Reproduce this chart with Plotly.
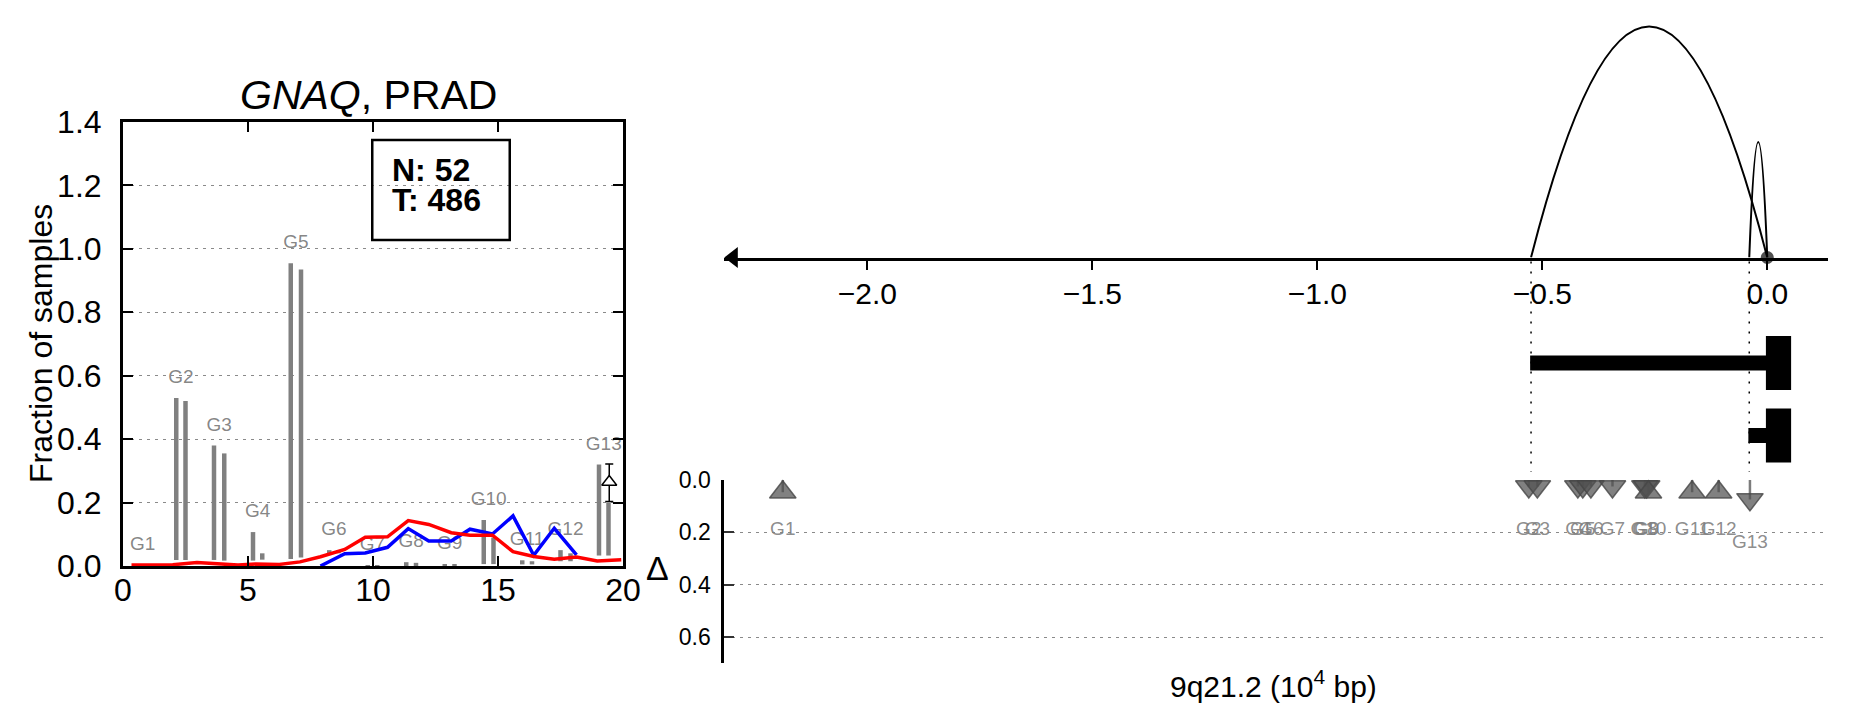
import plotly.graph_objects as go

W, H = 1851, 718
FONT = "Liberation Sans, Arial, sans-serif"

# ---------------- left panel data ----------------
genes = ["G1", "G2", "G3", "G4", "G5", "G6", "G7", "G8", "G9", "G10", "G11", "G12", "G13"]
bar1_x = [0.60, 2.13, 3.64, 5.20, 6.71, 8.25, 9.79, 11.33, 12.87, 14.43, 15.97, 17.50, 19.04]
bar2_x = [0.98, 2.50, 4.05, 5.57, 7.12, 8.62, 10.17, 11.72, 13.26, 14.82, 16.36, 17.90, 19.42]
bar1_base = [0.0, 0.019, 0.019, 0.017, 0.022, 0.035, 0.0, 0.0, 0.0, 0.006, 0.005, 0.015, 0.033]
bar1_top = [0.004, 0.530, 0.380, 0.107, 0.955, 0.050, 0.003, 0.012, 0.006, 0.145, 0.018, 0.050, 0.320]
bar2_base = [0.0, 0.019, 0.017, 0.020, 0.027, 0.040, 0.0, 0.0, 0.0, 0.006, 0.005, 0.015, 0.033]
bar2_top = [0.004, 0.520, 0.355, 0.040, 0.935, 0.050, 0.003, 0.010, 0.005, 0.090, 0.015, 0.040, 0.200]

tumor_x = [0.34, 1.17, 1.99, 2.96, 3.92, 4.60, 5.30, 6.25, 7.08, 7.90, 8.87, 9.69, 10.58,
           11.41, 12.23, 13.13, 13.88, 14.78, 15.60, 16.43, 17.25, 18.14, 18.97, 19.93]
tumor_y = [0.003, 0.003, 0.004, 0.011, 0.005, 0.003, 0.006, 0.005, 0.013, 0.029, 0.052, 0.091,
           0.092, 0.143, 0.131, 0.105, 0.097, 0.097, 0.045, 0.030, 0.021, 0.028, 0.016, 0.020]
normal_x = [7.90, 8.87, 9.69, 10.58, 11.41, 12.23, 13.13, 13.88, 14.78, 15.60, 16.43, 17.25, 18.14]
normal_y = [0.000, 0.039, 0.041, 0.059, 0.118, 0.079, 0.079, 0.116, 0.101, 0.158, 0.034, 0.119, 0.035]

g13_delta_x = [19.45]
g13_delta_y = [0.265]
g13_delta_hi = [0.057]
g13_delta_lo = [0.062]

n_normal, n_tumor = 52, 486

# ---------------- right panel data ----------------
arc_start = [-0.525, -0.040]
arc_end = [0.0, 0.0]
arc_height = [1.0, 0.50]

tx_row = [0, 1]
intron_start = [-0.527, -0.042]
intron_end = [0.0, 0.0]
exon_start = [-0.003, -0.003]
exon_end = [0.053, 0.053]

d_x = [-2.188, -0.530, -0.511, -0.421, -0.410, -0.392, -0.344, -0.272, -0.268, -0.264,
       -0.167, -0.108, -0.0385]
d_val = [0.036, 0.036, 0.036, 0.036, 0.036, 0.036, 0.036, 0.036, 0.036, 0.036, 0.036, 0.036, 0.085]
d_dir = ["up", "down", "down", "down", "down", "down", "down", "down", "down", "up",
         "up", "up", "down"]

arc_ticks = [-2.0, -1.5, -1.0, -0.5, 0.0]
arc_ticktext = ["\u22122.0", "\u22121.5", "\u22121.0", "\u22120.5", "0.0"]
delta_ticks = [0.0, 0.2, 0.4, 0.6]
frac_ticks = [0.0, 0.2, 0.4, 0.6, 0.8, 1.0, 1.2, 1.4]
x_ticks = [0, 5, 10, 15, 20]

# ---------------- layout geometry (pixels) ----------------
def px(p):
    return p / W

def py(p):
    return 1 - p / H

L_X0, L_X1, L_Y0, L_Y1 = 123, 623, 122, 566
R_X0, R_X1 = 724.3, 1828
xr_right = [-2.318, 0.135]
ARC_LINE = 257.5
ARC_TOP_PX = 231.0  # pixel height of unit arc
GENE_Y0, GENE_Y1 = 300, 470
TRACK_SP = 72.5
TRACK0 = 363
D_Y0, D_Y1 = 480, 663.3
D_RANGE = [0.70, 0.0]
TRI_SIZE = 23

fig = go.Figure()

# gene labels (left) drawn first so lines cover them
lab_x = [(a + b) / 2 for a, b in zip(bar1_x, bar2_x)]
lab_y = [max(a, b) + 0.062 for a, b in zip(bar1_top, bar2_top)]
fig.add_trace(go.Scatter(x=lab_x, y=lab_y, mode="text", text=genes,
                         textfont=dict(family=FONT, size=19, color="rgba(128,128,128,0.95)"),
                         xaxis="x", yaxis="y", hoverinfo="skip"))

for bx, bb, bt in [(bar1_x, bar1_base, bar1_top), (bar2_x, bar2_base, bar2_top)]:
    fig.add_trace(go.Bar(x=bx, y=[t - b for t, b in zip(bt, bb)], base=bb, width=0.18,
                         marker=dict(color="#808080", line=dict(width=0)),
                         xaxis="x", yaxis="y"))

fig.add_trace(go.Scatter(x=normal_x, y=normal_y, mode="lines",
                         line=dict(color="#0000ff", width=3.5), xaxis="x", yaxis="y"))
fig.add_trace(go.Scatter(x=tumor_x, y=tumor_y, mode="lines",
                         line=dict(color="#ff0000", width=3.5), xaxis="x", yaxis="y"))
fig.add_trace(go.Scatter(x=g13_delta_x, y=g13_delta_y, mode="markers",
                         marker=dict(symbol="triangle-up", size=13, color="white",
                                     line=dict(color="black", width=1.5)),
                         error_y=dict(type="data", symmetric=False, array=g13_delta_hi,
                                      arrayminus=g13_delta_lo, color="black", thickness=1.5, width=4),
                         xaxis="x", yaxis="y"))

# ---------------- right: arcs ----------------
fig.add_trace(go.Scatter(x=[0.0], y=[0.0], mode="markers",
                         marker=dict(size=13, color="rgba(50,50,50,0.85)"),
                         xaxis="x3", yaxis="y2", cliponaxis=False))
arrow_x = xr_right[0] + 9 / ((R_X1 - R_X0) / (xr_right[1] - xr_right[0]))
fig.add_trace(go.Scatter(x=[arrow_x], y=[0.0], mode="markers",
                         marker=dict(symbol="triangle-left", size=18, color="black"),
                         xaxis="x3", yaxis="y2", cliponaxis=False))

shapes = []
for s, e, h in zip(arc_start, arc_end, arc_height):
    shapes.append(dict(type="path", xref="x3", yref="y2",
                       path=f"M {s},0 Q {(s + e) / 2},{2 * h} {e},0",
                       line=dict(color="black", width=2)))

# dotted guides from arc starts
for s in arc_start:
    shapes.append(dict(type="line", xref="x2", yref="paper", x0=s, x1=s,
                       y0=py(ARC_LINE + 4), y1=py(D_Y0 - 8),
                       line=dict(color="black", width=1.5, dash="2px,8px")))

# gene structure
for r, i0, i1, e0, e1 in zip(tx_row, intron_start, intron_end, exon_start, exon_end):
    shapes.append(dict(type="rect", xref="x2", yref="y4", x0=i0, x1=i1,
                       y0=r - 7.5 / TRACK_SP, y1=r + 7.5 / TRACK_SP,
                       fillcolor="black", line=dict(width=0)))
    shapes.append(dict(type="rect", xref="x2", yref="y4", x0=e0, x1=e1,
                       y0=r - 27 / TRACK_SP, y1=r + 27 / TRACK_SP,
                       fillcolor="black", line=dict(width=0)))

# ---------------- right: delta markers ----------------
# plotly triangles are not centred on their bounding box; nudge by r/4 px so the
# bounding box is centred on the value (as in the reference)
d_px_per_unit = (D_Y1 - D_Y0) / abs(D_RANGE[0] - D_RANGE[1])
nudge = (TRI_SIZE / 2) / 4 / d_px_per_unit
d_plot = [v + nudge if d == "up" else v - nudge for v, d in zip(d_val, d_dir)]
sym = ["triangle-up" if d == "up" else "triangle-down" for d in d_dir]
fig.add_trace(go.Scatter(x=d_x, y=d_plot, mode="markers",
                         marker=dict(symbol=sym, size=TRI_SIZE, color="rgba(80,80,80,0.72)",
                                     line=dict(color="rgba(70,70,70,0.8)", width=1.5)),
                         error_y=dict(type="data", symmetric=False, array=[0] * len(d_val),
                                      arrayminus=d_plot, color="rgba(110,110,110,0.9)",
                                      thickness=2.5, width=0),
                         xaxis="x2", yaxis="y3", cliponaxis=False))
fig.add_trace(go.Scatter(x=d_x, y=[v + 0.155 for v in d_val], mode="text", text=genes,
                         textfont=dict(family=FONT, size=19, color="rgba(128,128,128,0.9)"),
                         xaxis="x2", yaxis="y3", cliponaxis=False))

# ---------------- annotations ----------------
ann = [
    dict(text="<i>GNAQ</i>, PRAD", x=px(368), y=py(95), xref="paper", yref="paper",
         showarrow=False, font=dict(family=FONT, size=41, color="black"),
         xanchor="center", yanchor="middle"),
    dict(text="Fraction of samples", x=px(41), y=py(344), xref="paper", yref="paper",
         showarrow=False, textangle=-90, font=dict(family=FONT, size=32, color="black"),
         xanchor="center", yanchor="middle"),
    dict(text=f"<b>N: {n_normal}</b>", x=10.66, y=1.249, xref="x", yref="y", showarrow=False,
         font=dict(family=FONT, size=32, color="black"), xanchor="left", yanchor="middle"),
    dict(text=f"<b>T: {n_tumor}</b>", x=10.68, y=1.154, xref="x", yref="y", showarrow=False,
         font=dict(family=FONT, size=32, color="black"), xanchor="left", yanchor="middle"),
    dict(text="\u0394", x=px(657), y=py(568), xref="paper", yref="paper", showarrow=False,
         font=dict(family=FONT, size=34, color="black"), xanchor="center", yanchor="middle"),
    dict(text="9q21.2 (10<sup>4</sup> bp)", x=px(1273), y=py(684), xref="paper", yref="paper",
         showarrow=False, font=dict(family=FONT, size=30, color="black"),
         xanchor="center", yanchor="middle"),
]
shapes.append(dict(type="rect", xref="x", yref="y", x0=9.97, x1=15.47, y0=1.028, y1=1.343,
                   line=dict(color="black", width=2.5), fillcolor="rgba(0,0,0,0)"))

fig.update_layout(
    width=W, height=H, margin=dict(l=0, r=0, t=0, b=0, autoexpand=False),
    paper_bgcolor="white", plot_bgcolor="white", showlegend=False,
    font=dict(family=FONT, color="black"),
    annotations=ann, shapes=shapes,
    xaxis=dict(domain=[px(L_X0), px(L_X1)], range=[0, 20], anchor="y", automargin=False,
               tickvals=x_ticks, ticktext=[str(t) for t in x_ticks],
               ticks="inside", ticklen=10, tickwidth=1.5, tickcolor="black",
               showline=True, linewidth=3, linecolor="black", mirror="ticks",
               showgrid=False, zeroline=False, ticklabelstandoff=-6,
               tickfont=dict(family=FONT, size=32, color="black")),
    yaxis=dict(domain=[py(L_Y1), py(L_Y0)], range=[0, 1.4], anchor="x", automargin=False,
               tickvals=frac_ticks, ticktext=[f"{t:.1f}" for t in frac_ticks],
               ticks="inside", ticklen=10, tickwidth=1.5, tickcolor="black",
               showline=True, linewidth=3, linecolor="black", mirror="ticks",
               showgrid=True, gridcolor="#8a8a8a", gridwidth=1, griddash="3px,5px",
               zeroline=False, ticklabelstandoff=12,
               tickfont=dict(family=FONT, size=32, color="black")),
    xaxis2=dict(domain=[px(R_X0), px(R_X1)], range=xr_right, anchor="y3", visible=False,
                automargin=False),
    yaxis3=dict(domain=[py(D_Y1), py(D_Y0)], range=D_RANGE, anchor="x2", automargin=False,
                tickvals=delta_ticks, ticktext=[f"{t:.1f}" for t in delta_ticks],
                ticks="inside", ticklen=10, tickwidth=1.5, tickcolor="#333",
                showline=True, linewidth=3, linecolor="black",
                showgrid=True, gridcolor="#8a8a8a", gridwidth=1, griddash="3px,5px",
                zeroline=False, ticklabelstandoff=6,
                tickfont=dict(family=FONT, size=23, color="black")),
    xaxis3=dict(domain=[px(R_X0), px(R_X1)], range=xr_right, anchor="y2", automargin=False,
                tickvals=arc_ticks, ticktext=arc_ticktext,
                ticks="outside", ticklen=10, tickwidth=1.5, tickcolor="black",
                showline=True, linewidth=2.5, linecolor="black",
                showgrid=False, zeroline=False, ticklabelstandoff=-2,
                tickfont=dict(family=FONT, size=30, color="black")),
    yaxis2=dict(domain=[py(ARC_LINE), 1.0], range=[0, ARC_LINE / ARC_TOP_PX], anchor="x3",
                visible=False, automargin=False),
    yaxis4=dict(domain=[py(GENE_Y1), py(GENE_Y0)],
                range=[(GENE_Y1 - TRACK0) / TRACK_SP, (GENE_Y0 - TRACK0) / TRACK_SP],
                anchor="x2", visible=False, automargin=False),
)

fig.write_html("out.html", config={"displayModeBar": False},
               post_script="document.body.style.margin='0px';document.body.style.overflow='hidden';")
